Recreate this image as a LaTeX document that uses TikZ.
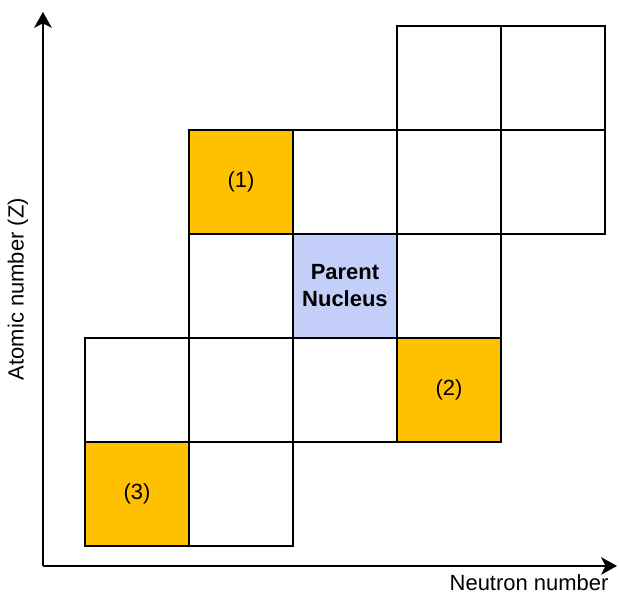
\documentclass[tikz,border=0pt]{standalone}
\usepackage{fontspec}
\setmainfont{Liberation Sans}
\usepackage{tikz}
\usetikzlibrary{arrows.meta, positioning}
\definecolor{nucorange}{HTML}{FFC000}
\definecolor{nucblue}{HTML}{C4CFF9}

\tikzset{
    cell/.style={draw, line width=1.1pt, minimum size=2.08cm, inner sep=0pt,
        font=\fontsize{12.5}{15.3}\selectfont},
    decay/.style={cell, fill=nucorange},
    parent/.style={cell, fill=nucblue, font=\fontsize{12.5}{15.3}\selectfont\bfseries, align=center},
    axis/.style={line width=1.1pt, -{Stealth[length=9pt, width=10pt, inset=2.5pt]}},
}

\begin{document}
\begin{tikzpicture}[x=2.08cm, y=2.08cm]
    \useasboundingbox (-0.817, -0.462) rectangle (5.135, 5.25);

    % Axes
    \coordinate (origin) at (-0.404, -0.192);
    \coordinate (ztip) at (-0.404, 5.135);
    \coordinate (ntip) at (5.115, -0.192);
    \draw[axis] (origin) -- (ztip);
    \draw[axis] (origin) -- (ntip);
    \node[rotate=90, font=\fontsize{12.5}{15}\selectfont] (zlabel) at (-0.644, 2.47) {Atomic number (Z)};
    \node[font=\fontsize{12.5}{15}\selectfont, inner sep=1pt] (nlabel) at (4.27, -0.355) {Neutron number};

    % Empty cells
    \foreach \c/\r in {1/0, 0/1, 1/1, 2/1, 1/2, 3/2, 2/3, 3/3, 4/3, 3/4, 4/4}
        \node[cell] (c\c\r) at (\c+0.5, \r+0.5) {};

    % Parent and daughter nuclei
    \node[parent] (parent) at (2.5, 2.5) {Parent\\Nucleus};
    \node[decay] (d1) at (1.5, 3.5) {(1)};
    \node[decay] (d2) at (3.5, 1.5) {(2)};
    \node[decay] (d3) at (0.5, 0.5) {(3)};
\end{tikzpicture}
\end{document}
